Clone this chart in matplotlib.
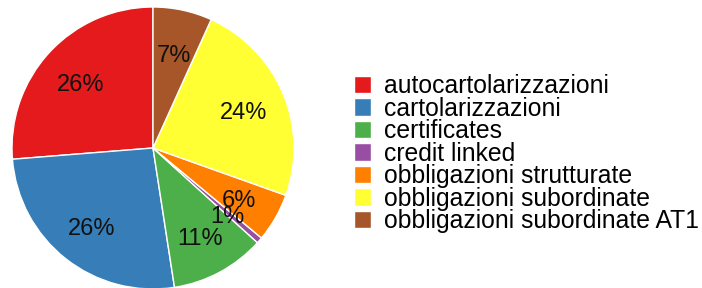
import matplotlib
matplotlib.use("Agg")
import matplotlib.pyplot as plt
from matplotlib.transforms import ScaledTranslation

categories = ["autocartolarizzazioni", "cartolarizzazioni", "certificates",
              "credit linked", "obbligazioni strutturate",
              "obbligazioni subordinate", "obbligazioni subordinate AT1"]
values = [26.4, 26.3, 10.9, 0.7, 5.6, 23.8, 6.8]
colors = ["#E41A1C", "#377EB8", "#4DAF4A", "#984EA3", "#FF7F00", "#FFFF33", "#A65628"]

plt.rcParams['font.family'] = ['Liberation Sans', 'DejaVu Sans']

W, H = 702, 288
fig = plt.figure(figsize=(W / 100, H / 100), dpi=100)
cx, cy, r = 153, 148, 141
ax = fig.add_axes([(cx - r) / W, (H - cy - r) / H, 2 * r / W, 2 * r / H])
wedges, texts, autotexts = ax.pie(
    values, colors=colors, startangle=90, counterclock=True,
    autopct='%.0f%%', pctdistance=0.70,
    wedgeprops=dict(edgecolor='white', linewidth=1.0),
    textprops=dict(fontsize=17, color='#111111'))
shift = ScaledTranslation(0, -4 / 100, fig.dpi_scale_trans)
for t in autotexts:
    t.set_transform(t.get_transform() + shift)
ax.set_xlim(-1, 1)
ax.set_ylim(-1, 1)
ax.set_aspect('equal')
ax.axis('off')

leg = fig.legend(wedges, categories, loc='upper left',
                 bbox_to_anchor=(354 / W, 1 - 74 / H),
                 frameon=False, fontsize=17.8, labelspacing=-0.06,
                 handlelength=0.7, handleheight=0.7, handletextpad=0.5,
                 borderpad=0, borderaxespad=0)

fig.savefig("out.png", dpi=100)
